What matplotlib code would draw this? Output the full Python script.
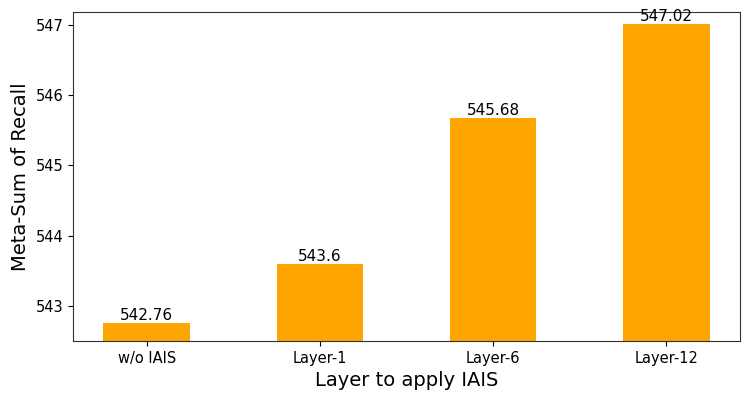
import matplotlib
matplotlib.use("Agg")
import matplotlib.pyplot as plt

# 数据
categories = ['w/o IAIS', 'Layer-1', 'Layer-6', 'Layer-12']
values = [542.76, 543.6, 545.68, 547.02]
value_labels = ['542.76', '543.6', '545.68', '547.02']

fig = plt.figure(figsize=(7.48, 4.01), dpi=100)
ax = fig.add_axes([73 / 748, 60 / 401, 667 / 748, 329 / 401])

x = list(range(len(categories)))
bars = ax.bar(x, values, width=0.5, color='orange')
for xi, v, lab in zip(x, values, value_labels):
    ax.text(xi, v, lab, ha='center', va='bottom', fontsize=11, clip_on=False)

ax.set_xticks(x)
ax.set_xticklabels(categories, fontsize=10.5)
ax.set_ylim(542.5, 547.185)
ax.set_yticks([543, 544, 545, 546, 547])
ax.tick_params(axis='y', labelsize=10.5)
ax.set_xlabel('Layer to apply IAIS', fontsize=14)
ax.set_ylabel('Meta-Sum of Recall', fontsize=14)
for sp in ax.spines.values():
    sp.set_color('#333333')

fig.savefig('out.png', dpi=100)
